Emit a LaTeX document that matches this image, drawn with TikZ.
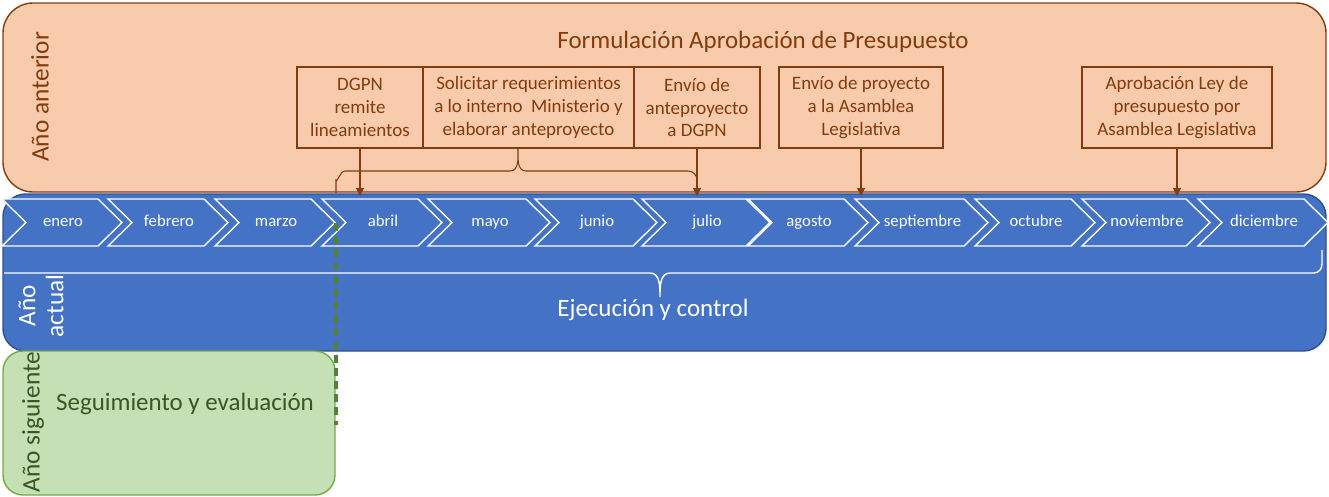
\documentclass[tikz,border=0pt]{standalone}
\usepackage{fontspec}
\setmainfont{Carlito}
\usepackage{tikz}
\usetikzlibrary{arrows.meta}
\definecolor{peach}{HTML}{F8CBAD}
\definecolor{rust}{HTML}{843C0C}
\definecolor{azul}{HTML}{4472C4}
\definecolor{navy}{HTML}{2F528F}
\definecolor{verde}{HTML}{C5E0B4}
\definecolor{verdeborde}{HTML}{70AD47}
\definecolor{verdeosc}{HTML}{385723}
\definecolor{verdelin}{HTML}{548235}

\begin{document}
\begin{tikzpicture}[x=0.02cm, y=-0.02cm,
	stage/.style={draw=rust, line width=0.6pt, text=rust, align=center, font=\fontsize{10.8}{13}\selectfont, inner sep=0pt, minimum height=81*0.02cm},
	month/.style={text=white, font=\fontsize{9.5}{11}\selectfont, text height=7pt, text depth=2pt},
	yearlbl/.style={rotate=90, font=\fontsize{14.4}{16}\selectfont, align=center},
	biglbl/.style={font=\fontsize{14.2}{16}\selectfont},
	tip/.style={-{Triangle[length=4.5pt,width=4.5pt]}, rust, line width=0.6pt}]

		\useasboundingbox (0,0) rectangle (1329,497);

		% draw year boxes
		\draw[fill=azul, draw=navy, line width=0.8pt, rounded corners=0.45cm] (3,194) rectangle (1326,351);
		\draw[fill=peach, draw=rust, line width=0.8pt, rounded corners=0.6cm] (3,3) rectangle (1326,192);
		\draw[fill=verde, draw=verdeborde, line width=0.8pt, rounded corners=0.4cm] (3,351) rectangle (335,495);

		% draw year labels
		\node[yearlbl, text=rust] (anterior) at (40,97) {Año anterior};
		\node[yearlbl, text=white] (actual) at (41,306) {Año\\actual};
		\node[yearlbl, text=verdeosc] (siguiente) at (33,422) {Año siguiente};
		\node[biglbl, text=rust] (formulacion) at (763,42) {Formulación Aprobación de Presupuesto};
		\node[biglbl, text=white] (ejecucion) at (653,310) {Ejecución y control};
		\node[biglbl, text=verdeosc] (seguimiento) at (185,404) {Seguimiento y evaluación};

		% draw stage boxes
		\node[stage, minimum width=126*0.02cm] (dgpn) at (360,107.5) {DGPN\\remite\\lineamientos};
		\node[stage, minimum width=211*0.02cm] (solicitar) at (528.5,107.5) {Solicitar requerimientos\\a lo interno~ Ministerio y\\elaborar anteproyecto};
		\node[stage, minimum width=126*0.02cm] (envio) at (697,107.5) {Envío de\\anteproyecto\\a DGPN};
		\node[stage, minimum width=164*0.02cm] (asamblea) at (861,107.5) {Envío de proyecto\\a la Asamblea\\Legislativa};
		\node[stage, minimum width=190*0.02cm] (aprobacion) at (1177,107.5) {Aprobación Ley de\\presupuesto por\\Asamblea Legislativa};

		% draw months
		\foreach \x/\w/\m [count=\i] in {2/120/enero,108/120/febrero,215/120/marzo,322/120/abril,428/122/mayo,535/122/junio,642/128/julio,748/120/agosto,855/133/septiembre,975/120/octubre,1082/128/noviembre,1198/130/diciembre}
		{
			\draw[white, fill=azul, line width=0.8pt] (\x,199) -- (\x+\w-24,199) -- (\x+\w,222.5) -- (\x+\w-24,246) -- (\x,246) -- (\x+24,222.5) -- cycle;
			\node[month] (m\i) at (\x+\w/2+1,222.5) {\m};
		}

		% draw arrows
		\coordinate (linea) at (0,196);
		\draw[tip] (dgpn.south) -- (dgpn.south |- linea);
		\draw[tip] (envio.south) -- (envio.south |- linea);
		\draw[tip] (asamblea.south) -- (asamblea.south |- linea);
		\draw[tip] (aprobacion.south) -- (aprobacion.south |- linea);

		% draw braces
		\draw[rust, line width=0.6pt] (336,193) -- (336,180) to[out=-90,in=180] (345,171) -- (510,171) to[out=0,in=-90] (518,149) to[out=-90,in=180] (526,171) -- (688,171) to[out=0,in=90] (697,180);
		\draw[white, line width=0.8pt] (4,273) -- (650,273) to[out=0,in=90] (660,297) to[out=90,in=180] (670,273) -- (1314,273) to[out=0,in=-90] (1322,264) -- (1322,250);

		% draw dashed line
		\draw[verdelin, line width=1.8pt, dash pattern=on 4.5pt off 3pt] (336,223) -- (336,425);
	\end{tikzpicture}
\end{document}
